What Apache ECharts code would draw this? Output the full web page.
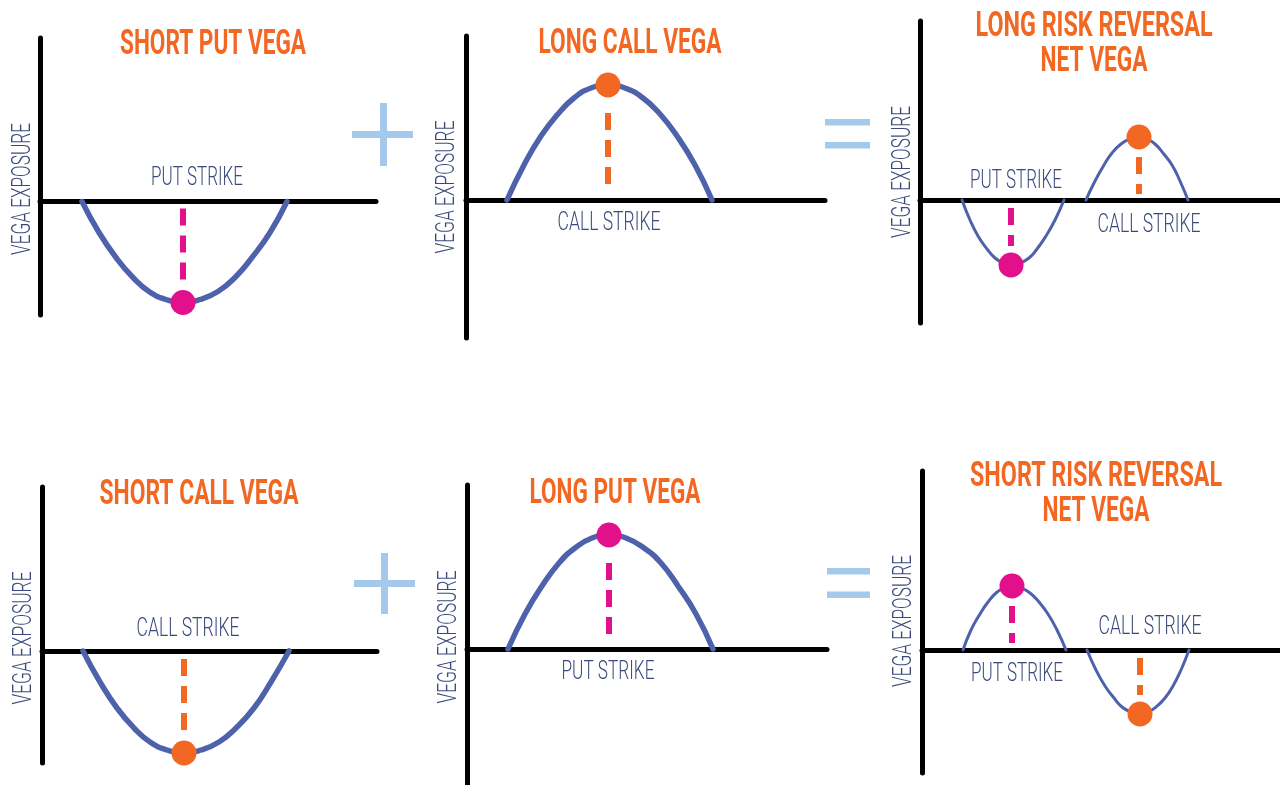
<!DOCTYPE html>
<html>
<head>
<meta charset="utf-8">
<title>Risk reversal net vega</title>
<script src="https://cdn.jsdelivr.net/npm/echarts@6/dist/echarts.min.js"></script>
<style>
html, body { margin: 0; padding: 0; background: #fff; }
#main { width: 1280px; height: 785px; }
</style>
</head>
<body>
<div id="main"></div>
<script>
// vega curves: x = distance along the strike axis, y = vega exposure (up is long)
const shortPutX = [42, 59, 76, 93, 109, 126, 143, 160, 178, 195, 212, 230, 247]
const shortPutY = [0, -31, -56, -76, -90, -98, -101, -98, -90, -76, -56, -31, 0]
const longCallX = [41, 58, 75, 92, 108, 125, 142, 159, 177, 194, 211, 229, 246]
const longCallY = [0, 35, 64, 86, 102, 112, 115, 112, 102, 86, 64, 35, 0]
const lrrPutX = [42, 50, 58, 67, 75, 83, 91, 100, 109, 117, 126, 135, 144]
const lrrPutY = [0, -20, -36, -49, -58, -63, -65, -63, -58, -49, -36, -20, 0]
const lrrCallX = [166, 175, 184, 192, 201, 210, 219, 227, 235, 243, 252, 260, 268]
const lrrCallY = [0, 19, 35, 47, 56, 61, 63, 61, 56, 47, 35, 19, 0]
const shortCallX = [41, 58, 75, 92, 108, 125, 142, 159, 177, 194, 212, 229, 247]
const shortCallY = [0, -31, -57, -77, -91, -99, -102, -99, -91, -77, -57, -31, 0]
const longPutX = [41, 58, 75, 92, 108, 125, 142, 159, 177, 194, 211, 229, 246]
const longPutY = [0, 35, 63, 86, 101, 111, 114, 111, 101, 86, 63, 35, 0]
const srrPutX = [41, 49, 58, 66, 74, 82, 90, 99, 108, 117, 126, 135, 144]
const srrPutY = [0, 20, 36, 48, 57, 62, 64, 62, 57, 48, 36, 20, 0]
const srrCallX = [165, 174, 183, 192, 200, 209, 218, 226, 234, 243, 251, 259, 267]
const srrCallY = [0, -20, -36, -48, -57, -62, -64, -62, -57, -48, -36, -20, 0]

// strike markers: [strike x, dash start, dash end, vega at strike]
const shortPutStrike = [143, -7, -79, -101]
const longCallStrike = [142, 87, 15, 115]
const lrrPutStrike = [91, -8, -46, -65]
const lrrCallStrike = [219, 43, 6, 63]
const shortCallStrike = [142, -8, -79, -102]
const longPutStrike = [142, 86, 15, 114]
const srrPutStrike = [90, 44, 7, 64]
const srrCallStrike = [218, -8, -45, -64]

// texts
const titles = ['SHORT PUT VEGA', 'LONG CALL VEGA', 'LONG RISK REVERSAL', 'NET VEGA',
  'SHORT CALL VEGA', 'LONG PUT VEGA', 'SHORT RISK REVERSAL', 'NET VEGA']
const axisName = 'VEGA EXPOSURE'

const PUT = '#e2108b'
const CALL = '#f26722'
const CURVE = '#4e62ab'
const INK = '#3c4a7b'
const SIGN = '#a4c9ea'

// layout of the six little charts (axis origin + grid box, px)
const panels = [
  { ox: 40, oy: 201.5, top: 38, bottom: 315, right: 376, lw: 5.5 },
  { ox: 466, oy: 200, top: 36, bottom: 338, right: 825, lw: 5.5 },
  { ox: 920, oy: 200, top: 21, bottom: 323, right: 1280, lw: 3 },
  { ox: 42, oy: 651, top: 487, bottom: 763, right: 377, lw: 5.5 },
  { ox: 467, oy: 649, top: 485, bottom: 785, right: 827, lw: 5.5 },
  { ox: 922, oy: 650, top: 471, bottom: 773, right: 1280, lw: 3 }
]

const curves = [
  [[shortPutX, shortPutY, shortPutStrike, PUT]],
  [[longCallX, longCallY, longCallStrike, CALL]],
  [[lrrPutX, lrrPutY, lrrPutStrike, PUT], [lrrCallX, lrrCallY, lrrCallStrike, CALL]],
  [[shortCallX, shortCallY, shortCallStrike, CALL]],
  [[longPutX, longPutY, longPutStrike, PUT]],
  [[srrPutX, srrPutY, srrPutStrike, PUT], [srrCallX, srrCallY, srrCallStrike, CALL]]
]

const grid = []
const xAxis = []
const yAxis = []
const series = []

panels.forEach(function (p, i) {
  grid.push({ left: p.ox, top: p.top, width: p.right - p.ox, height: p.bottom - p.top })
  const axisLine = { show: true, onZero: true, lineStyle: { color: '#000', width: 5 } }
  xAxis.push({
    gridIndex: i, type: 'value', min: 0, max: p.right - p.ox,
    axisLine: axisLine, axisTick: { show: false }, axisLabel: { show: false }, splitLine: { show: false }
  })
  yAxis.push({
    gridIndex: i, type: 'value', min: -(p.bottom - p.oy), max: p.oy - p.top,
    axisLine: axisLine, axisTick: { show: false }, axisLabel: { show: false }, splitLine: { show: false }
  })
  curves[i].forEach(function (c) {
    const xs = c[0], ys = c[1], s = c[2], color = c[3]
    series.push({
      type: 'line', xAxisIndex: i, yAxisIndex: i, smooth: 0.5, symbol: 'none', clip: false,
      data: xs.map(function (v, k) { return [v, ys[k]] }),
      lineStyle: { color: CURVE, width: p.lw, cap: 'round', join: 'round' }, z: 2
    })
    series.push({
      type: 'line', xAxisIndex: i, yAxisIndex: i, symbol: 'none', clip: false,
      data: [[s[0], s[1]], [s[0], s[2]]],
      lineStyle: { color: color, width: 6, type: [17, 10], cap: 'butt' }, z: 3
    })
    series.push({
      type: 'scatter', xAxisIndex: i, yAxisIndex: i, clip: false, symbolSize: 25,
      data: [[s[0], s[3]]], itemStyle: { color: color, opacity: 1 }, z: 4
    })
  })
})

// condensed look: measure the text and squeeze it to the width seen in the picture
const ctx = document.createElement('canvas').getContext('2d')
function label(text, x, y, w, font, color, rotation) {
  ctx.font = font
  const sx = w / ctx.measureText(text).width
  // nudge so the capitals sit centred on the given point
  const nx = rotation ? x + 2.5 : x
  const ny = rotation ? y : y + 2.5
  return {
    type: 'text', x: nx, y: ny, rotation: rotation || 0, scaleX: sx, z: 10,
    style: {
      text: text, font: font, fill: color,
      align: 'center', verticalAlign: 'middle', textAlign: 'center', textVerticalAlign: 'middle'
    }
  }
}
const TF = 'bold 35px Roboto, "Liberation Sans", sans-serif'
const LF = '300 25px Roboto, "Liberation Sans", sans-serif'
const R = Math.PI / 2

const graphic = [
  label(titles[0], 213, 43, 186, TF, CALL),
  label(titles[1], 630, 42, 183, TF, CALL),
  label(titles[2], 1094, 25, 237, TF, CALL),
  label(titles[3], 1094, 60, 107, TF, CALL),
  label(titles[4], 199, 493, 199, TF, CALL),
  label(titles[5], 615, 492, 171, TF, CALL),
  label(titles[6], 1096, 475, 252, TF, CALL),
  label(titles[7], 1096, 510, 107, TF, CALL),

  label('PUT STRIKE', 197, 176, 92, LF, INK),
  label('CALL STRIKE', 609, 221, 103, LF, INK),
  label('PUT STRIKE', 1016, 179, 92, LF, INK),
  label('CALL STRIKE', 1149, 223, 103, LF, INK),
  label('CALL STRIKE', 188, 627, 103, LF, INK),
  label('PUT STRIKE', 608, 670, 93, LF, INK),
  label('CALL STRIKE', 1150, 625, 103, LF, INK),
  label('PUT STRIKE', 1017, 672, 92, LF, INK),

  label(axisName, 21, 189, 132, LF, INK, R),
  label(axisName, 445, 187, 133, LF, INK, R),
  label(axisName, 901, 172, 132, LF, INK, R),
  label(axisName, 22, 638, 133, LF, INK, R),
  label(axisName, 447, 637, 133, LF, INK, R),
  label(axisName, 902, 621, 132, LF, INK, R),

  // plus and equals signs between the charts
  { type: 'rect', shape: { x: 380, y: 103, width: 7, height: 63 }, style: { fill: SIGN } },
  { type: 'rect', shape: { x: 352, y: 131, width: 61, height: 7 }, style: { fill: SIGN } },
  { type: 'rect', shape: { x: 381, y: 553, width: 7, height: 61 }, style: { fill: SIGN } },
  { type: 'rect', shape: { x: 354, y: 580, width: 61, height: 7 }, style: { fill: SIGN } },
  { type: 'rect', shape: { x: 825, y: 119, width: 45, height: 6.5 }, style: { fill: SIGN } },
  { type: 'rect', shape: { x: 825, y: 142, width: 45, height: 6.5 }, style: { fill: SIGN } },
  { type: 'rect', shape: { x: 827, y: 568, width: 43, height: 6.5 }, style: { fill: SIGN } },
  { type: 'rect', shape: { x: 827, y: 591.5, width: 43, height: 6.5 }, style: { fill: SIGN } }
]

const chart = echarts.init(document.getElementById('main'))
chart.setOption({
  animation: false,
  backgroundColor: '#fff',
  grid: grid,
  xAxis: xAxis,
  yAxis: yAxis,
  series: series,
  graphic: graphic
})
</script>
</body>
</html>
